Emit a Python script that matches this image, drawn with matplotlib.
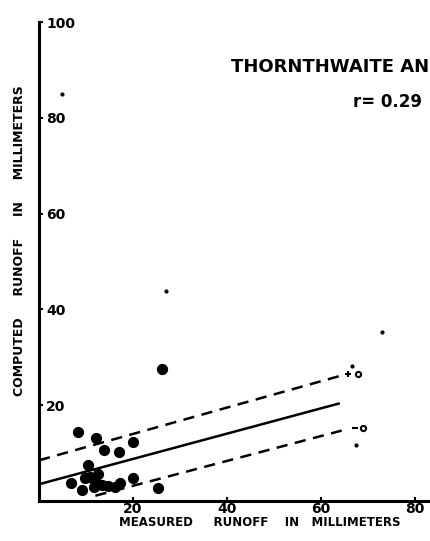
import matplotlib
matplotlib.use("Agg")
import matplotlib.pyplot as plt

# Data
big_x = [8.2, 12.1, 13.8, 17.1, 20.1, 26.1, 10.5, 6.8, 9.1, 10.9, 11.9, 13.3, 14.7,
         9.8, 17.2, 19.9, 25.4, 16.2, 11.6, 12.6]
big_y = [14.5, 13.1, 10.7, 10.3, 12.4, 27.6, 7.6, 3.75, 2.4, 5.1, 4.1, 3.4, 3.1,
         4.8, 3.75, 4.8, 2.7, 2.9, 3.0, 5.6]
small_x = [4.8, 27.0, 73.0, 67.4, 66.7]
small_y = [85.0, 43.8, 35.3, 11.6, 28.1]

reg_x = [0, 64.0]
reg_y = [3.5, 20.4]
upper_x = [0, 64.0]
upper_y = [8.5, 26.1]
lower_x = [12.0, 64.4]
lower_y = [1.1, 14.7]

plus_pt = (65.7, 26.5)
dash_pt = (67.2, 15.2)
circ_x = [67.8, 69.0]
circ_y = [26.5, 15.2]

xticks = [20, 40, 60, 80]
yticks = [20, 40, 60, 80, 100]

W, H = 430, 541
fig = plt.figure(figsize=(W / 100, H / 100), dpi=100)
ax = fig.add_axes([39 / W, 40 / H, (W - 39) / W, 479 / H])
ax.set_xlim(0, (W - 39) / 4.7)
ax.set_ylim(0, 100)

for s in ["top", "right"]:
    ax.spines[s].set_visible(False)
for s in ["left", "bottom"]:
    ax.spines[s].set_linewidth(2.2)
    ax.spines[s].set_color("black")

ax.plot(reg_x, reg_y, color="black", lw=1.8, solid_capstyle="butt")
ax.plot(upper_x, upper_y, color="black", lw=1.8, dashes=(4.5, 3))
ax.plot(lower_x, lower_y, color="black", lw=1.8, dashes=(4.5, 3))

ax.scatter(big_x, big_y, s=50, color="black", zorder=3, clip_on=False)
ax.scatter(small_x, small_y, s=4, color="black", zorder=3)
ax.plot([plus_pt[0]], [plus_pt[1]], marker="+", color="black", ms=5, mew=1.5)
ax.plot([dash_pt[0]], [dash_pt[1]], marker="_", color="black", ms=4, mew=1.5)
ax.scatter(circ_x, circ_y, s=14, facecolor="white", edgecolor="black", linewidth=1.5, zorder=3)

ax.set_xticks(xticks)
ax.set_yticks(yticks)
ax.set_xticklabels([str(v) for v in xticks])
ax.set_yticklabels([str(v) for v in yticks])
ax.tick_params(axis="both", direction="in", length=3, width=1.5, labelsize=10)
ax.tick_params(axis="x", pad=1)
ax.tick_params(axis="y", pad=-5)
for lab in ax.get_yticklabels():
    lab.set_horizontalalignment("left")
    lab.set_fontweight("bold")
for lab in ax.get_xticklabels():
    lab.set_fontweight("bold")

fig.text(260 / W, 1 - 523 / H, "MEASURED     RUNOFF    IN   MILLIMETERS",
         ha="center", va="center", fontsize=8.5, fontweight="bold")
fig.text(20 / W, 1 - 241 / H, "COMPUTED     RUNOFF     IN     MILLIMETERS",
         ha="center", va="center", rotation=90, fontsize=9, fontweight="bold")

fig.text(231 / W, 1 - 67 / H, "THORNTHWAITE AN", ha="left", va="center",
         fontsize=13, fontweight="bold")
fig.text(353 / W, 1 - 102 / H, "r= 0.29", ha="left", va="center",
         fontsize=12, fontweight="bold")

fig.savefig("out.png", dpi=100)
